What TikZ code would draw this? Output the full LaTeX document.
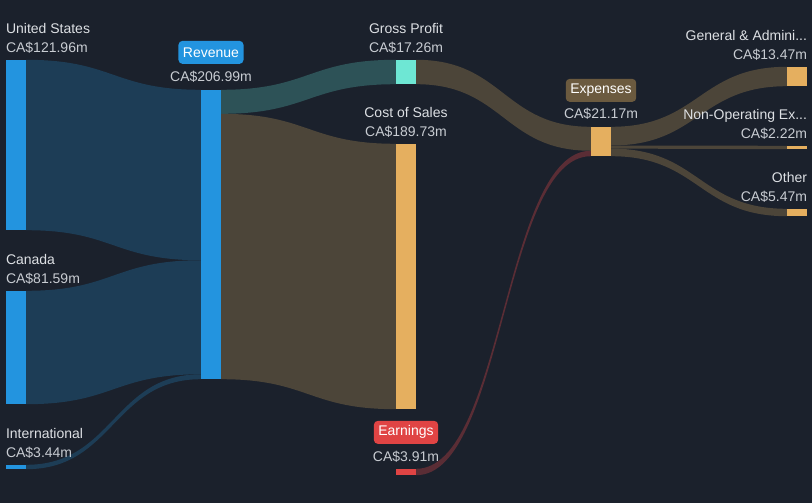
\documentclass[tikz,border=0pt]{standalone}
\usepackage{fontspec}
\setmainfont{Liberation Sans}
\usetikzlibrary{positioning,calc}

\definecolor{bg}{HTML}{1B212C}
\definecolor{txt}{HTML}{DDE0E4}
\definecolor{val}{HTML}{C8CCD2}
\definecolor{revblue}{HTML}{2394DF}
\definecolor{revflow}{HTML}{1D3D56}
\definecolor{gpteal}{HTML}{6EE7D4}
\definecolor{gpflow}{HTML}{2D5257}
\definecolor{costor}{HTML}{E5AF5F}
\definecolor{costflow}{HTML}{4C4539}
\definecolor{earnred}{HTML}{E04444}
\definecolor{earnflow}{HTML}{5A2D35}
\definecolor{exptag}{HTML}{6B5A3F}

% band from the east side of #1 (fractions #2..#3) to the west side of #4 (fractions #5..#6)
\newcommand{\flow}[7]{%
  \coordinate (p1) at ($(#1.north east)!#2!(#1.south east)$);
  \coordinate (p2) at ($(#1.north east)!#3!(#1.south east)$);
  \coordinate (q1) at ($(#4.north west)!#5!(#4.south west)$);
  \coordinate (q2) at ($(#4.north west)!#6!(#4.south west)$);
  \coordinate (m) at ($(p1)!0.5!(q1)$);
  \fill[#7] (p1) .. controls (p1 -| m) and (q1 -| m) .. (q1) -- (q2)
    .. controls (q2 -| m) and (p2 -| m) .. (p2) -- cycle;
}

\begin{document}
\begin{tikzpicture}[x=1pt, y=-1pt,
    bar/.style = {shape=rectangle, inner sep=0pt, minimum width=20pt},
    lbl/.style = {inner sep=0pt, text=txt,
      font=\fontsize{14}{19}\selectfont},
    tag/.style = {shape=rectangle, rounded corners=4pt, text=white,
      inner xsep=4.5pt, minimum height=23pt,
      font=\fontsize{14}{16}\selectfont}]
  \fill[bg] (0,0) rectangle (812,503);
  \useasboundingbox (0,0) rectangle (812,503);

  % bars
  \node[bar, fill=revblue, minimum height=170pt] (us) at (16,145) {};
  \node[bar, fill=revblue, minimum height=113pt] (ca) at (16,347.5) {};
  \node[bar, fill=revblue, minimum height=4pt] (intl) at (16,467) {};
  \node[bar, fill=revblue, minimum height=289pt] (rev) at (211,234.5) {};
  \node[bar, fill=gpteal, minimum height=24pt] (gp) at (406,72) {};
  \node[bar, fill=costor, minimum height=265pt] (cos) at (406,276.5) {};
  \node[bar, fill=earnred, minimum height=6pt] (earn) at (406,472) {};
  \node[bar, fill=costor, minimum height=29pt] (exp) at (601,141.5) {};
  \node[bar, fill=costor, minimum height=19pt] (ga) at (797,76.5) {};
  \node[bar, fill=costor, minimum height=3pt] (nonop) at (797,147.5) {};
  \node[bar, fill=costor, minimum height=7pt] (other) at (797,212.5) {};

  % flows
  \flow{us}{0}{1}{rev}{0}{0.589}{revflow}
  \flow{ca}{0}{1}{rev}{0.589}{0.983}{revflow}
  \flow{intl}{0}{1}{rev}{0.983}{1}{revflow}
  \flow{rev}{0}{0.083}{gp}{0}{1}{gpflow}
  \flow{rev}{0.083}{1}{cos}{0}{1}{costflow}
  \flow{gp}{0}{1}{exp}{0}{0.815}{costflow}
  \flow{earn}{0}{1}{exp}{0.815}{1}{earnflow}
  \flow{exp}{0}{0.636}{ga}{0}{1}{costflow}
  \flow{exp}{0.636}{0.741}{nonop}{0}{1}{costflow}
  \flow{exp}{0.741}{1}{other}{0}{1}{costflow}

  % labels
  \node[lbl, align=left, above right=6pt and 0pt of us.north west]
    {United States\\\color{val}CA\$121.96m};
  \node[lbl, align=left, above right=6pt and 0pt of ca.north west]
    {Canada\\\color{val}CA\$81.59m};
  \node[lbl, align=left, above right=6pt and 0pt of intl.north west]
    {International\\\color{val}CA\$3.44m};
  \node[lbl, text=val, above=7pt of rev.north] (revval) {CA\$206.99m};
  \node[tag, fill=revblue, above=7pt of revval] (revtag) {Revenue};
  \node[lbl, align=center, above=6pt of gp.north]
    {Gross Profit\\\color{val}CA\$17.26m};
  \node[lbl, align=center, above=6pt of cos.north]
    {Cost of Sales\\\color{val}CA\$189.73m};
  \node[lbl, text=val, above=6pt of earn.north] (earnval) {CA\$3.91m};
  \node[tag, fill=earnred, above=7pt of earnval] (earntag) {Earnings};
  \node[lbl, text=val, above=7pt of exp.north] (expval) {CA\$21.17m};
  \node[tag, fill=exptag, above=6pt of expval] (exptag) {Expenses};
  \node[lbl, align=right, above left=6pt and 0pt of ga.north east]
    {General \& Admini...\\\color{val}CA\$13.47m};
  \node[lbl, align=right, above left=6pt and 0pt of nonop.north east]
    {Non-Operating Ex...\\\color{val}CA\$2.22m};
  \node[lbl, align=right, above left=6pt and 0pt of other.north east]
    {Other\\\color{val}CA\$5.47m};
\end{tikzpicture}
\end{document}
